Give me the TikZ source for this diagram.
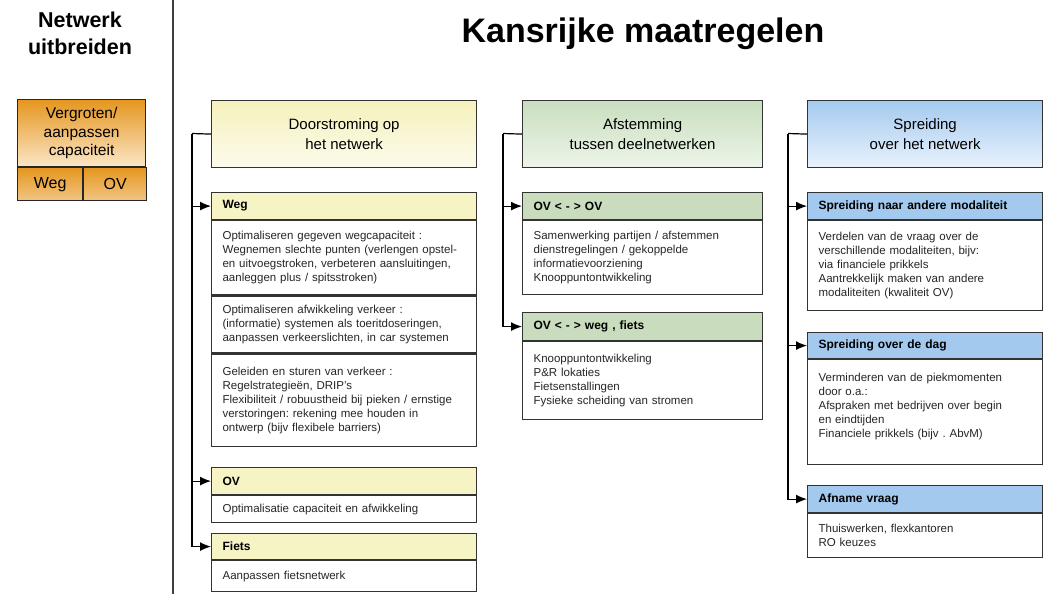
\documentclass[tikz,border=0pt]{standalone}
\usepackage{fontspec}
\setmainfont{Liberation Sans}
\usetikzlibrary{arrows.meta}
\frenchspacing
\definecolor{yelTop}{HTML}{F5F1BC}
\definecolor{yelBot}{HTML}{FCFBEC}
\definecolor{yelStrip}{HTML}{F6F3C4}
\definecolor{grnTop}{HTML}{C8DEBE}
\definecolor{grnBot}{HTML}{EDF5E9}
\definecolor{grnStrip}{HTML}{C9DCBD}
\definecolor{bluTop}{HTML}{A4CAEF}
\definecolor{bluBot}{HTML}{E8F2FC}
\definecolor{bluStrip}{HTML}{A3C9EF}
\definecolor{orgTop}{HTML}{E5961F}
\definecolor{orgBot}{HTML}{FBE6C6}
\definecolor{orgCell}{HTML}{F2C585}
\begin{document}
\begin{tikzpicture}[x=1pt,y=1pt,yscale=-1,
    hdr/.style={draw=black!80, line width=1.2pt, minimum height=67pt, anchor=north west,
      align=center, font=\fontsize{15}{19.5}\selectfont},
    strip/.style={draw=black!80, line width=1.2pt, minimum height=27pt, inner xsep=11pt,
      inner ysep=0pt, anchor=north west, align=left, font=\bfseries\fontsize{12}{14}\selectfont},
    body/.style={draw=black!80, line width=1.2pt, inner xsep=11pt, inner ysep=0pt,
      anchor=north west, align=left, text=black!85, font=\fontsize{11.5}{14}\selectfont},
    capbox/.style={draw=black!85, line width=1.2pt, anchor=north west, align=center,
      inner sep=0pt},
    feed/.style={line width=1.2pt, -{Latex[length=11pt,width=9pt]}},
    colA/.style={text width=243pt},
    colB/.style={text width=218pt},
    colC/.style={text width=213pt}]
  \fill[white] (0,0) rectangle (1048,594);
  \useasboundingbox (0,0) rectangle (1048,594);

  % left part
  \node[font=\bfseries\fontsize{21.5}{27}\selectfont, align=center] (netTitle) at (80,33) {Netwerk\\uitbreiden};
  \node[capbox, minimum width=128pt, minimum height=67pt, top color=orgTop, bottom color=orgBot,
    font=\fontsize{15.5}{18.5}\selectfont] (capTop) at (17,99) {Vergroten/\\aanpassen\\capaciteit};
  \node[capbox, minimum width=65pt, minimum height=33pt, top color=orgTop, bottom color=orgCell,
    font=\fontsize{16}{18}\selectfont] (capWeg) at (capTop.south west) {Weg};
  \node[capbox, minimum width=63pt, minimum height=33pt, top color=orgTop, bottom color=orgCell,
    font=\fontsize{16}{18}\selectfont] (capOV) at (capWeg.north east) {OV};
  \draw[line width=1.5pt, black!75] (173,0) -- (173,594);

  \node[font=\bfseries\fontsize{34}{40}\selectfont] (title) at (643,34) {Kansrijke maatregelen};

  % kolom 1
  \node[hdr, minimum width=265pt, top color=yelTop, bottom color=yelBot] (doorH) at (211,100) {Doorstroming op\\het netwerk};
  \node[strip, colA, fill=yelStrip] (wegS) at (211,192) {Weg};
  \node[body, colA, minimum height=74pt] (wegA) at (wegS.south west) {Optimaliseren gegeven wegcapaciteit :\\Wegnemen slechte punten (verlengen opstel-\\en uitvoegstroken, verbeteren aansluitingen,\\aanleggen plus / spitsstroken)};
  \node[body, colA, minimum height=57pt] (wegB) at (wegA.south west) {Optimaliseren afwikkeling verkeer :\\(informatie) systemen als toeritdoseringen,\\aanpassen verkeerslichten, in car systemen};
  \node[body, colA, minimum height=92pt] (wegC) at (wegB.south west) {Geleiden en sturen van verkeer :\\Regelstrategieën, DRIP’s\\Flexibiliteit / robuustheid bij pieken / ernstige\\verstoringen: rekening mee houden in\\ontwerp (bijv flexibele barriers)};
  \node[strip, colA, fill=yelStrip] (ovS) at (211,467) {OV};
  \node[body, colA, minimum height=27pt] (ovA) at (ovS.south west) {Optimalisatie capaciteit en afwikkeling};
  \node[strip, colA, fill=yelStrip, minimum height=26pt] (fietsS) at (211,533) {Fiets};
  \node[body, colA, minimum height=31pt] (fietsA) at (fietsS.south west) {Aanpassen fietsnetwerk};
  \coordinate (doorK) at (192,133.5);
  \draw[line width=1.2pt] (doorH.west) -- (doorK);
  \foreach \t in {wegS,ovS,fietsS}
    \draw[feed] (doorK) |- (\t.west);

  % kolom 2
  \node[hdr, minimum width=240pt, top color=grnTop, bottom color=grnBot] (afstH) at (522,100) {Afstemming\\tussen deelnetwerken};
  \node[strip, colB, fill=grnStrip] (ovovS) at (522,192) {OV < - > OV};
  \node[body, colB, minimum height=74pt] (ovovA) at (ovovS.south west) {Samenwerking partijen / afstemmen\\dienstregelingen / gekoppelde\\informatievoorziening\\Knooppuntontwikkeling};
  \node[strip, colB, fill=grnStrip, minimum height=28pt] (ovwegS) at (522,312) {OV < - > weg , fiets};
  \node[body, colB, minimum height=78pt] (ovwegA) at (ovwegS.south west) {Knooppuntontwikkeling\\P\&R lokaties\\Fietsenstallingen\\Fysieke scheiding van stromen};
  \coordinate (afstK) at (503,133.5);
  \draw[line width=1.2pt] (afstH.west) -- (afstK);
  \foreach \t in {ovovS,ovwegS}
    \draw[feed] (afstK) |- (\t.west);

  % kolom 3
  \node[hdr, minimum width=235pt, top color=bluTop, bottom color=bluBot] (spreH) at (807,100) {Spreiding\\over het netwerk};
  \node[strip, colC, fill=bluStrip] (modS) at (807,192) {Spreiding naar andere modaliteit};
  \node[body, colC, minimum height=90pt] (modA) at (modS.south west) {Verdelen van de vraag over de\\verschillende modaliteiten, bijv:\\via financiele prikkels\\Aantrekkelijk maken van andere\\modaliteiten (kwaliteit OV)};
  \node[strip, colC, fill=bluStrip, minimum height=26pt] (dagS) at (807,332) {Spreiding over de dag};
  \node[body, colC, minimum height=105pt] (dagA) at (dagS.south west) {Verminderen van de piekmomenten\\door o.a.:\\Afspraken met bedrijven over begin\\en eindtijden\\Financiele prikkels (bijv . AbvM)\\ \mbox{}};
  \node[strip, colC, fill=bluStrip] (vraagS) at (807,485) {Afname vraag};
  \node[body, colC, minimum height=44pt] (vraagA) at (vraagS.south west) {Thuiswerken, flexkantoren\\RO keuzes};
  \coordinate (spreK) at (788,133.5);
  \draw[line width=1.2pt] (spreH.west) -- (spreK);
  \foreach \t in {modS,dagS,vraagS}
    \draw[feed] (spreK) |- (\t.west);
\end{tikzpicture}
\end{document}
